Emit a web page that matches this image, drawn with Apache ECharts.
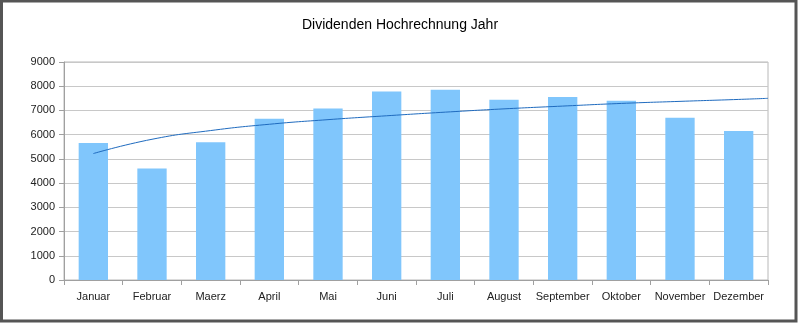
<!DOCTYPE html>
<html><head><meta charset="utf-8">
<script src="https://cdn.jsdelivr.net/npm/echarts@6/dist/echarts.min.js"></script>
<style>html,body{margin:0;padding:0;background:#fff}#c{width:800px;height:325px}</style>
</head><body><div id="c"></div>
<script>
const title = 'Dividenden Hochrechnung Jahr';
const categories = ['Januar','Februar','Maerz','April','Mai','Juni','Juli','August','September','Oktober','November','Dezember'];
const dividends = [5660, 4600, 5690, 6660, 7080, 7780, 7850, 7440, 7550, 7400, 6700, 6150];
const trendX = [1,2,3,4,5,6,7,8,9,10,11,12,12.5];
const trendY = [5220, 5810, 6170, 6430, 6620, 6780, 6930, 7065, 7180, 7290, 7375, 7455, 7500];
const yTicks = {min:0, max:9000, interval:1000};

const chart = echarts.init(document.getElementById('c'), null, {renderer:'canvas'});
const font = 'Liberation Sans, Arial, sans-serif';
chart.setOption({
  animation:false,
  backgroundColor:'#fff',
  title:{text:title, left:'center', top:13, textStyle:{fontFamily:font, fontSize:14, fontWeight:'normal', color:'#000'}},
  grid:{left:64, right:32, top:62, bottom:45, show:true, borderColor:'#b8b8b8', borderWidth:1},
  xAxis:[
    {type:'category', data:categories, boundaryGap:true,
     axisLine:{lineStyle:{color:'#a0a0a0'}},
     axisTick:{show:true, length:5, alignWithLabel:false, lineStyle:{color:'#a0a0a0'}},
     axisLabel:{color:'#222', fontFamily:font, fontSize:11, margin:11, interval:0}},
    {type:'value', min:0.5, max:12.5, show:false}
  ],
  yAxis:{type:'value', min:yTicks.min, max:yTicks.max, interval:yTicks.interval,
    axisLine:{show:true, lineStyle:{color:'#a0a0a0'}},
    axisTick:{show:true, length:5, lineStyle:{color:'#a0a0a0'}},
    splitLine:{lineStyle:{color:'#c8c8c8'}},
    axisLabel:{color:'#222', fontFamily:font, fontSize:11, margin:9, formatter:v=>String(v)}},
  series:[
    {type:'bar', data:dividends, barWidth:'50%', itemStyle:{color:'#80c6fc'}, xAxisIndex:0},
    {type:'line', xAxisIndex:1, data:trendX.map((x,i)=>[x,trendY[i]]), smooth:true, showSymbol:false,
     lineStyle:{color:'#1f6bbf', width:1}}
  ],
  graphic:[{type:'rect', shape:{x:1.5, y:1, width:794.5, height:320}, style:{fill:'none', stroke:'#555', lineWidth:3}, silent:true}]
});
</script></body></html>
